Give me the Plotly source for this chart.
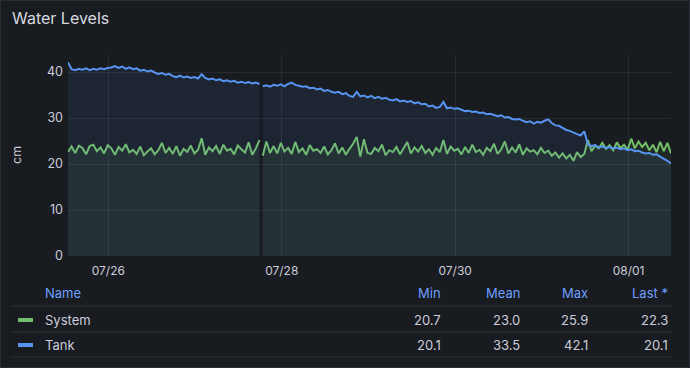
import plotly.graph_objects as go
import pandas as pd

# ---------------- data ----------------
SEG_A_START = "2024-07-25 12:50"
SEG_B_START = "2024-07-27 18:45"
X_RANGE = ["2024-07-25 12:50", "2024-08-01 11:45"]

TICK_DATES = ["2024-07-26", "2024-07-28", "2024-07-30", "2024-08-01"]
TICK_LABELS = ["07/26", "07/28", "07/30", "08/01"]

TANK_A = [42.1, 40.6, 40.4, 40.7, 40.5, 40.8, 40.4, 40.7, 40.5, 40.8,
          40.6, 40.9, 41.0, 41.3, 40.9, 41.2, 40.7, 41.0, 40.6, 40.8,
          40.3, 40.5, 40.1, 40.3, 39.9, 39.6, 39.8, 39.4, 39.6, 39.1,
          38.9, 39.2, 38.8, 39.0, 38.7, 38.9, 38.6, 39.5, 38.7, 38.4,
          38.6, 38.2, 38.4, 38.0, 38.2, 37.9, 38.1, 37.7, 37.9, 37.6,
          37.8, 37.5, 37.7, 37.4]
TANK_B = [36.9, 37.1, 36.8, 37.2, 37.0, 37.3, 36.9, 37.4, 37.7, 37.2,
          37.0, 36.8, 36.9, 36.5, 36.6, 36.2, 36.4, 35.9, 36.1, 35.7,
          35.5, 35.7, 35.2, 35.4, 34.8, 34.6, 35.7, 34.7, 34.9, 34.5,
          34.8, 34.3, 34.6, 34.2, 34.4, 34.0, 33.8, 34.1, 33.6, 33.8,
          33.5, 33.7, 33.2, 33.4, 33.0, 33.1, 32.5, 32.7, 32.2, 32.4,
          33.5, 32.1, 32.3, 32.0, 32.1, 31.8, 31.5, 31.6, 31.3, 31.4,
          31.1, 31.2, 30.8, 30.9, 30.6, 30.4, 30.6, 30.1, 30.2, 29.8,
          29.7, 29.8, 29.4, 29.1, 29.3, 28.8, 29.2, 29.0, 29.4, 29.7,
          28.9, 28.4, 28.3, 27.8, 27.4, 27.2, 26.8, 26.5, 26.2, 27.1,
          24.3, 23.9, 24.1, 23.6, 23.8, 23.5, 23.7, 23.4, 23.6, 23.2,
          23.4, 23.0, 23.2, 22.8, 22.9, 22.5, 22.3, 22.4, 22.0, 22.1,
          21.6, 21.2, 20.7, 20.1]
SYSTEM_A = [22.6, 23.8, 22.4, 24.0, 23.5, 22.1, 23.9, 24.2, 22.8, 23.6,
            22.3, 24.1, 23.4, 22.0, 23.7, 22.9, 24.3, 22.5, 23.1, 22.2,
            23.8, 21.9, 22.7, 23.4, 22.1, 23.0, 24.6, 22.4, 23.5, 22.2,
            23.9, 21.8, 23.3, 22.6, 24.0, 22.3, 23.1, 25.6, 22.0, 23.6,
            22.8, 23.9, 22.2, 24.2, 22.9, 23.3, 22.1, 24.0, 23.2, 22.5,
            24.7, 22.0, 23.4, 25.2]
SYSTEM_B = [21.8, 24.9, 22.4, 23.9, 22.3, 24.6, 22.7, 23.5, 22.2, 24.8,
            22.6, 23.4, 22.0, 24.1, 22.9, 23.2, 22.4, 23.8, 22.1, 23.0,
            24.5, 22.3, 23.6, 22.0, 23.3, 24.4, 25.9, 21.6, 25.4, 22.4,
            22.2, 23.5, 22.8, 24.2, 21.9, 23.0, 22.6, 23.7, 22.1, 23.4,
            24.8, 22.3, 23.6, 22.7, 23.9, 22.4, 23.2, 22.0, 23.5, 22.6,
            25.2, 22.2, 23.8, 22.9, 23.3, 22.1, 23.7, 22.4, 24.2, 22.6,
            23.1, 22.0, 23.5, 22.8, 24.4, 22.2, 23.2, 24.9, 22.3, 23.6,
            22.5, 24.3, 22.0, 23.4, 22.7, 23.0, 22.1, 23.5, 22.4, 22.9,
            21.8, 22.5, 21.4, 22.3, 21.2, 22.0, 20.7, 22.6, 21.5, 22.2,
            25.2, 22.8, 24.0, 23.4, 24.6, 23.3, 24.1, 23.0, 24.7, 23.5,
            24.2, 23.1, 25.5, 23.4, 24.9, 23.7, 24.6, 23.0, 24.2, 22.6,
            24.8, 22.8, 24.6, 22.3]

SERIES_NAMES = ["System", "Tank"]
SERIES_COLORS = ["#73BF69", "#5794F2"]
SERIES_FILLS = ["rgba(115,191,105,0.09)", "rgba(87,148,242,0.09)"]
STAT_HEADERS = ["Min", "Mean", "Max", "Last *"]
STATS = {"System": ["20.7", "23.0", "25.9", "22.3"],
         "Tank": ["20.1", "33.5", "42.1", "20.1"]}

# ---------------- build ----------------
W, H = 690, 368
L, R, T, B = 68, 671, 55, 256


def fx(p):
    return (p - L) / (R - L)


def fy(p):
    return (B - p) / (B - T)


t_a = list(pd.date_range(SEG_A_START, periods=len(TANK_A), freq="h"))
t_b = list(pd.date_range(SEG_B_START, periods=len(TANK_B), freq="h"))
segments = {"System": [SYSTEM_A, SYSTEM_B], "Tank": [TANK_A, TANK_B]}

FONT = "Inter, Roboto, sans-serif"
TXT = "#ccccdc"

fig = go.Figure()
for name, color, fillc in zip(SERIES_NAMES, SERIES_COLORS, SERIES_FILLS):
    for times, vals in zip([t_a, t_b], segments[name]):
        fig.add_trace(go.Scatter(x=times, y=vals, mode="lines", name=name,
                                 line=dict(color=color, width=2),
                                 fill="tozeroy", fillcolor=fillc))

grid = "rgba(204,204,220,0.09)"
fig.update_layout(
    width=W, height=H,
    margin=dict(l=L, r=W - R, t=T, b=H - B),
    paper_bgcolor="#181b1f", plot_bgcolor="#181b1f",
    showlegend=False,
    font=dict(family=FONT, color=TXT, size=12),
    xaxis=dict(range=X_RANGE, tickvals=TICK_DATES, ticktext=TICK_LABELS,
               showgrid=True, gridcolor=grid, zeroline=False, showline=False,
               ticks="", tickfont=dict(size=12, color=TXT), ticklabelstandoff=6),
    yaxis=dict(range=[0, 43.7], tickvals=[0, 10, 20, 30, 40],
               showgrid=True, gridcolor=grid, zeroline=False, showline=False,
               ticks="", tickfont=dict(size=12.5, color=TXT), ticklabelstandoff=4),
)

ann = []
shapes = []
# title
ann.append(dict(x=fx(10), y=fy(18), xref="paper", yref="paper", text="Water Levels",
                showarrow=False, xanchor="left", yanchor="middle",
                font=dict(size=16, color="#d8d9e0", family=FONT)))
# y axis title
ann.append(dict(x=fx(16), y=fy(155), xref="paper", yref="paper", text="cm",
                showarrow=False, xanchor="center", yanchor="middle", textangle=-90,
                font=dict(size=12.5, color=TXT, family=FONT)))

# legend table
HEAD_C = "#6e9fff"
col_right = [443, 522, 590, 670]
ann.append(dict(x=fx(43), y=fy(293), xref="paper", yref="paper", text="Name",
                showarrow=False, xanchor="left", yanchor="middle",
                font=dict(size=13, color=HEAD_C, family=FONT)))
for h, cx in zip(STAT_HEADERS, col_right):
    ann.append(dict(x=fx(cx), y=fy(293), xref="paper", yref="paper", text=h,
                    showarrow=False, xanchor="right", yanchor="middle",
                    font=dict(size=13, color=HEAD_C, family=FONT)))
row_y = [320, 345]
for name, color, ry in zip(SERIES_NAMES, SERIES_COLORS, row_y):
    shapes.append(dict(type="rect", xref="paper", yref="paper",
                       x0=fx(18), x1=fx(33), y0=fy(ry + 2), y1=fy(ry - 2),
                       fillcolor=color, line=dict(width=0)))
    ann.append(dict(x=fx(43), y=fy(ry), xref="paper", yref="paper", text=name,
                    showarrow=False, xanchor="left", yanchor="middle",
                    font=dict(size=13, color=TXT, family=FONT)))
    for v, cx in zip(STATS[name], col_right):
        ann.append(dict(x=fx(cx), y=fy(ry), xref="paper", yref="paper", text=v,
                        showarrow=False, xanchor="right", yanchor="middle",
                        font=dict(size=13, color=TXT, family=FONT)))
for ly in [306, 332, 357]:
    shapes.append(dict(type="line", xref="paper", yref="paper",
                       x0=fx(10), x1=fx(672), y0=fy(ly), y1=fy(ly),
                       line=dict(color="rgba(204,204,220,0.12)", width=1)))
# panel border
shapes.append(dict(type="rect", xref="paper", yref="paper",
                   x0=fx(0.5), x1=fx(689.5), y0=fy(367.5), y1=fy(0.5),
                   line=dict(color="#2a2d33", width=1), fillcolor="rgba(0,0,0,0)",
                   layer="below"))

fig.update_layout(annotations=ann, shapes=shapes)
fig.write_html("out.html", config={"displayModeBar": False},
               post_script="document.body.style.margin='0';document.body.style.background='#181b1f';")
